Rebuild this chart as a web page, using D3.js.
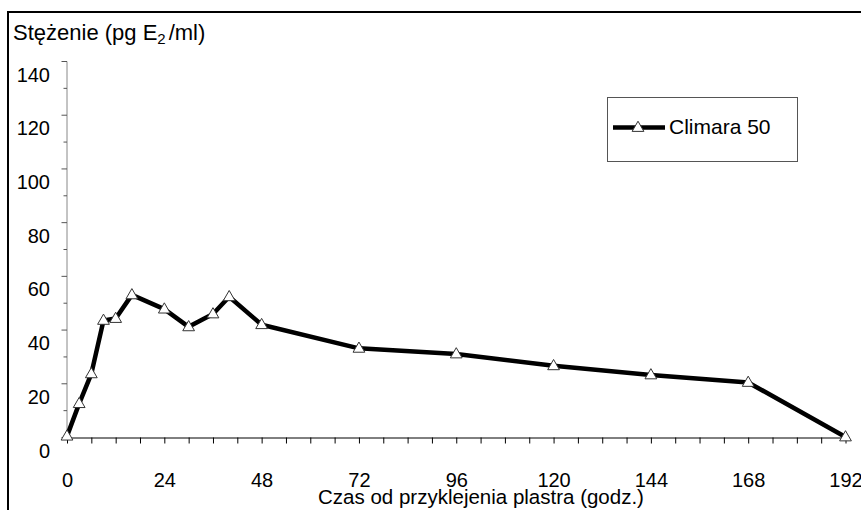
<!DOCTYPE html>
<html>
<head>
<meta charset="utf-8">
<script src="https://cdn.jsdelivr.net/npm/d3@7"></script>
<style>
  body { margin: 0; background: #fff; }
  text { font-family: Arial, "Liberation Sans", sans-serif; }
</style>
</head>
<body>
<script>
var hours = [0, 3, 6, 9, 12, 16, 24, 30, 36, 40, 48, 72, 96, 120, 144, 168, 192];
var conc = [0.5, 12.6, 23.7, 43.6, 44.3, 53.1, 47.8, 41.2, 46, 52.4, 42, 33.2, 31.1, 26.7, 23.3, 20.5, 0.2];
var xTicks = d3.range(0, 193, 6);
var xLabels = [0, 24, 48, 72, 96, 120, 144, 168, 192];
var yTicks = d3.range(0, 141, 10);
var yLabels = [0, 20, 40, 60, 80, 100, 120, 140];
var seriesName = "Climara 50";

var W = 861, H = 510;
var svg = d3.select("body").append("svg")
    .attr("width", W)
    .attr("height", H);

// outer frame (runs off the right and bottom edges)
svg.append("rect")
    .attr("x", 8).attr("y", 12)
    .attr("width", 900).attr("height", 600)
    .attr("fill", "none")
    .attr("stroke", "#000")
    .attr("stroke-width", 2);

var x = d3.scaleLinear().domain([0, 192]).range([67, 845.5]);
var y = d3.scaleLinear().domain([0, 140]).range([437.5, 61.5]);

// y axis: ticks every 10, long ones at 20s, labels sit a bit below the ticks
var gy = svg.append("g").attr("transform", "translate(67,0)");
gy.append("line")
    .attr("y1", y(0)).attr("y2", y(140))
    .attr("stroke", "#888").attr("stroke-width", 1);
gy.selectAll(".yt").data(yTicks).enter().append("line")
    .attr("x1", (d) => d % 20 === 0 ? -5.5 : -3.5)
    .attr("x2", 0)
    .attr("y1", (d) => y(d)).attr("y2", (d) => y(d))
    .attr("stroke", "#555");
svg.selectAll(".yl").data(yLabels).enter().append("text")
    .attr("x", 50)
    .attr("y", (d) => y(d) + 20)
    .attr("text-anchor", "end")
    .attr("font-size", "20px")
    .text((d) => d);

// x axis
var xAxis = d3.axisBottom(x)
    .tickValues(xTicks)
    .tickSize(6)
    .tickSizeOuter(0)
    .tickFormat((d) => xLabels.indexOf(d) >= 0 ? d : "");
var gx = svg.append("g")
    .attr("transform", `translate(0,${y(0)})`)
    .call(xAxis);
gx.select(".domain").attr("stroke", "#000");
gx.selectAll(".tick line").attr("stroke", "#000");
gx.selectAll(".tick text")
    .attr("y", 49)
    .attr("dy", null)
    .attr("font-size", "20px")
    .attr("font-family", "Arial, 'Liberation Sans', sans-serif")
    .attr("fill", "#000");

// titles
var yt = svg.append("text")
    .attr("x", 13).attr("y", 40)
    .attr("font-size", "22px");
yt.append("tspan").text("Stężenie (pg E");
yt.append("tspan").attr("font-size", "15px").attr("dy", 4).text("2");
yt.append("tspan").attr("dy", -4).attr("dx", 3).text("/ml)");

svg.append("text")
    .attr("x", 481).attr("y", 504)
    .attr("text-anchor", "middle")
    .attr("font-size", "20.5px")
    .text("Czas od przyklejenia plastra (godz.)");

// series
var data = hours.map((h, i) => ({ h: h, v: conc[i] }));
var line = d3.line().x((d) => x(d.h)).y((d) => y(d.v));
svg.append("path")
    .datum(data)
    .attr("d", line)
    .attr("fill", "none")
    .attr("stroke", "#000")
    .attr("stroke-width", 4.5)
    .attr("stroke-linejoin", "round");

var tri = d3.symbol().type(d3.symbolTriangle).size(60);
svg.selectAll(".pt").data(data).enter().append("path")
    .attr("d", tri)
    .attr("transform", (d) => `translate(${x(d.h)},${y(d.v) + 0.5})`)
    .attr("fill", "#fff")
    .attr("stroke", "#333")
    .attr("stroke-width", 1);

// legend
var lg = svg.append("g");
lg.append("rect")
    .attr("x", 607.5).attr("y", 97.5)
    .attr("width", 190).attr("height", 64)
    .attr("fill", "#fff")
    .attr("stroke", "#555")
    .attr("stroke-width", 1);
lg.append("line")
    .attr("x1", 613).attr("x2", 665)
    .attr("y1", 127.5).attr("y2", 127.5)
    .attr("stroke", "#000").attr("stroke-width", 4.5);
lg.append("path")
    .attr("d", tri)
    .attr("transform", "translate(638,128)")
    .attr("fill", "#fff")
    .attr("stroke", "#333");
lg.append("text")
    .attr("x", 669).attr("y", 133.5)
    .attr("font-size", "21px")
    .text(seriesName);
</script>
</body>
</html>
